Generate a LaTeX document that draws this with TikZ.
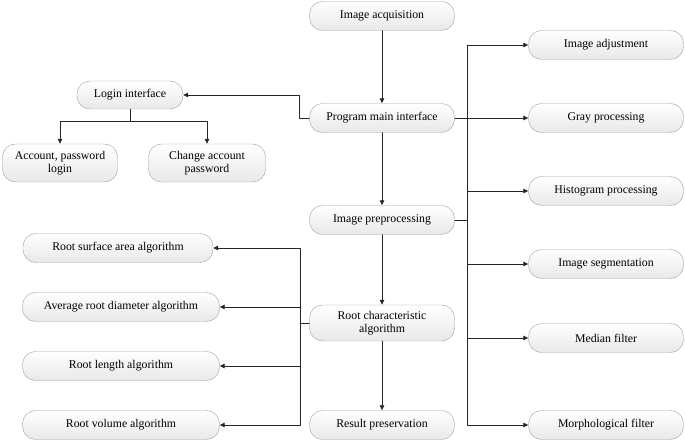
\documentclass[tikz,border=0pt]{standalone}
\usepackage{fontspec}
\setmainfont{Liberation Serif}
\usetikzlibrary{arrows.meta}

\tikzset{
  box/.style={draw=gray!75, rounded corners=13pt, top color=white, bottom color=gray!18,
    minimum height=29pt, align=center, inner sep=2pt, font=\fontsize{11.8}{13}\selectfont},
  midbox/.style={box, minimum width=145pt},
  sidebox/.style={box, minimum width=155pt},
  algbox/.style={box, minimum width=197pt},
  link/.style={draw=black!85, line width=0.8pt},
}

\begin{document}
\begin{tikzpicture}[x=1pt, y=-1pt, line cap=round, line join=round, >={Triangle[length=5pt,width=4.5pt]}]
\useasboundingbox (0,0) rectangle (685,443);

% main column
\node[midbox] (acq)  at (382,16)  {Image acquisition};
\node[midbox] (main) at (382,118) {Program main interface};
\node[midbox] (prep) at (382,220) {Image preprocessing};
\node[midbox, minimum height=36pt] (rca) at (382,323) {Root characteristic\\algorithm};
\node[midbox] (save) at (382,425) {Result preservation};

% login branch
\node[box, minimum width=106pt, minimum height=28pt] (login) at (130,95) {Login interface};
\node[box, minimum width=115pt, minimum height=38pt] (acct)  at (60,163)  {Account, password\\login};
\node[box, minimum width=117pt, minimum height=38pt] (chpwd) at (207,163) {Change account\\password};

% preprocessing steps
\node[sidebox] (adj)   at (606,45)  {Image adjustment};
\node[sidebox] (gray)  at (606,118) {Gray processing};
\node[sidebox] (hist)  at (606,191) {Histogram processing};
\node[sidebox] (seg)   at (606,264) {Image segmentation};
\node[sidebox] (med)   at (606,338) {Median filter};
\node[sidebox] (morph) at (606,425) {Morphological filter};

% root algorithms
\node[algbox, minimum width=190pt] (rsa) at (118,248) {Root surface area algorithm};
\node[algbox] (ard) at (121,307) {Average root diameter algorithm};
\node[algbox] (rl)  at (121,366) {Root length algorithm};
\node[algbox] (rv)  at (121,425) {Root volume algorithm};

\coordinate (rbus) at (467,220);
\coordinate (lbus) at (300,323);

% main flow
\draw[link,->] (acq) -- (main);
\draw[link,->] (main) -- (prep);
\draw[link,->] (prep) -- (rca);
\draw[link,->] (rca) -- (save);

% login
\draw[link,->] (main.west) -- ++(-10,0) |- (login.east);
\draw[link] (login.south) -- ++(0,12) coordinate (lsplit);
\draw[link,->] (lsplit) -| (acct.north);
\draw[link,->] (lsplit) -| (chpwd.north);

% right bus
\draw[link] (prep.east) -- (rbus);
\draw[link] (main.east) -- (main.east -| rbus);
\foreach \n in {adj,gray,hist,seg,med,morph}
  \draw[link,->] (rbus) |- (\n.west);

% left bus
\draw[link] (rca.west) -- (lbus);
\foreach \n in {rsa,ard,rl,rv}
  \draw[link,->] (lbus) |- (\n.east);
\end{tikzpicture}
\end{document}
